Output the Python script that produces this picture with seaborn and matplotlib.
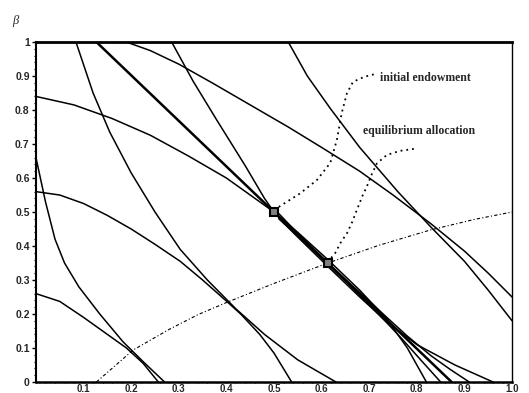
import matplotlib
matplotlib.use("Agg")
import matplotlib.pyplot as plt
import seaborn as sns
from matplotlib.ticker import MultipleLocator

# =========================
# DATA
# =========================

# budget line through endowment and equilibrium
budget_x = [0.127, 0.873]
budget_y = [1.0, 0.0]

# indifference curves through the initial endowment
a0_x = [0.285, 0.33, 0.38, 0.44, 0.48, 0.50, 0.52, 0.55, 0.613, 0.68, 0.737, 0.80, 0.88, 0.96]
a0_y = [1.0, 0.885, 0.77, 0.635, 0.54, 0.50, 0.468, 0.426, 0.34, 0.25, 0.177, 0.11, 0.05, 0.0]
b0_x = [0.0, 0.08, 0.16, 0.24, 0.32, 0.40, 0.46, 0.50, 0.55, 0.613, 0.68, 0.737, 0.78, 0.82]
b0_y = [0.84, 0.815, 0.775, 0.726, 0.665, 0.60, 0.54, 0.50, 0.44, 0.36, 0.27, 0.185, 0.10, 0.0]

# indifference curves through the equilibrium
a1_x = [0.50, 0.55, 0.613, 0.66, 0.70, 0.737, 0.78, 0.83, 0.87, 0.91]
a1_y = [0.51, 0.437, 0.351, 0.289, 0.238, 0.19, 0.135, 0.077, 0.037, 0.0]
b1_x = [0.51, 0.56, 0.613, 0.66, 0.70, 0.737, 0.77, 0.81, 0.85]
b1_y = [0.48, 0.417, 0.347, 0.283, 0.227, 0.174, 0.125, 0.062, 0.0]

# other pairs of curves along the contract curve
l66_x = [0.0, 0.02, 0.04, 0.06, 0.09, 0.134, 0.183, 0.225, 0.27]
l66_y = [0.66, 0.53, 0.42, 0.35, 0.28, 0.20, 0.118, 0.06, 0.0]
l26_x = [0.0, 0.05, 0.10, 0.15, 0.19, 0.225, 0.257]
l26_y = [0.26, 0.237, 0.19, 0.14, 0.10, 0.055, 0.0]

l56_x = [0.0, 0.05, 0.10, 0.15, 0.20, 0.25, 0.303, 0.35, 0.40, 0.43, 0.47, 0.50, 0.537]
l56_y = [0.56, 0.55, 0.525, 0.49, 0.45, 0.405, 0.355, 0.30, 0.238, 0.20, 0.14, 0.085, 0.0]
l08_x = [0.084, 0.12, 0.155, 0.20, 0.25, 0.303, 0.36, 0.42, 0.48, 0.55, 0.63]
l08_y = [1.0, 0.85, 0.735, 0.615, 0.50, 0.39, 0.30, 0.215, 0.14, 0.065, 0.0]

u19_x = [0.19, 0.24, 0.30, 0.37, 0.45, 0.53, 0.60, 0.68, 0.75, 0.83, 0.90, 0.95, 1.0]
u19_y = [1.0, 0.975, 0.935, 0.88, 0.815, 0.75, 0.69, 0.62, 0.55, 0.465, 0.385, 0.32, 0.25]
u53_x = [0.53, 0.57, 0.618, 0.68, 0.76, 0.83, 0.90, 0.95, 1.0]
u53_y = [1.0, 0.90, 0.805, 0.69, 0.56, 0.455, 0.355, 0.27, 0.18]

# contract curve
cc_x = [0.127, 0.204, 0.28, 0.34, 0.404, 0.50, 0.613, 0.72, 0.828, 0.92, 1.0]
cc_y = [0.0, 0.094, 0.155, 0.198, 0.236, 0.29, 0.35, 0.402, 0.447, 0.478, 0.50]

# marked points
pts_x = [0.5, 0.613]
pts_y = [0.5, 0.35]

# dotted pointers to the labels
p1_x = [0.51, 0.555, 0.59, 0.618, 0.632, 0.642, 0.653, 0.666, 0.69, 0.71]
p1_y = [0.515, 0.555, 0.594, 0.644, 0.712, 0.79, 0.849, 0.883, 0.898, 0.905]
p2_x = [0.62, 0.628, 0.64, 0.653, 0.664, 0.674, 0.685, 0.695, 0.705, 0.716, 0.737, 0.765, 0.80]
p2_y = [0.365, 0.378, 0.41, 0.437, 0.47, 0.506, 0.545, 0.575, 0.61, 0.643, 0.668, 0.68, 0.687]

labels = ["initial endowment", "equilibrium allocation"]
label_pos = [(0.723, 0.894), (0.686, 0.738)]

x_ticks = [0.1, 0.2, 0.3, 0.4, 0.5, 0.6, 0.7, 0.8, 0.9, 1.0]
x_ticklabels = ["0.1", "0.2", "0.3", "0.4", "0.5", "0.6", "0.7", "0.8", "0.9", "1.0"]
y_ticks = [0.0, 0.1, 0.2, 0.3, 0.4, 0.5, 0.6, 0.7, 0.8, 0.9, 1.0]
y_ticklabels = ["0", "0.1", "0.2", "0.3", "0.4", "0.5", "0.6", "0.7", "0.8", "0.9", "1"]

# =========================
# PLOT
# =========================

sns.set_style("ticks")
plt.rcParams['font.family'] = ['Liberation Sans', 'DejaVu Sans']

fig, ax = plt.subplots(figsize=(5.29, 3.93), dpi=100)
fig.subplots_adjust(left=0.068, right=0.968, bottom=0.028, top=0.893)

curves = [
    (a0_x, a0_y), (b0_x, b0_y), (a1_x, a1_y), (b1_x, b1_y),
    (l66_x, l66_y), (l26_x, l26_y), (l56_x, l56_y), (l08_x, l08_y),
    (u19_x, u19_y), (u53_x, u53_y),
]
for cx, cy in curves:
    sns.lineplot(x=cx, y=cy, sort=False, estimator=None,
                 color="black", linewidth=1.1, ax=ax)

sns.lineplot(x=budget_x, y=budget_y, sort=False, estimator=None,
             color="black", linewidth=1.8, ax=ax)

sns.lineplot(x=cc_x, y=cc_y, sort=False, estimator=None,
             color="black", linewidth=0.8, linestyle=(0, (3, 2, 1, 2)), ax=ax)

for px, py in [(p1_x, p1_y), (p2_x, p2_y)]:
    sns.lineplot(x=px, y=py, sort=False, estimator=None, color="black",
                 linewidth=1.3, linestyle=(0, (1, 2.2)), ax=ax)

ax.plot(pts_x, pts_y, linestyle="none", marker="s", markersize=6,
        mfc="0.5", mec="black", mew=1.5, zorder=5)

for text, (tx, ty) in zip(labels, label_pos):
    ax.text(tx, ty, text, ha="left", va="center", fontsize=8.5,
            fontweight="bold", family=["Liberation Serif", "DejaVu Serif"])

ax.set_xlim(0, 1)
ax.set_ylim(0, 1)
ax.set_xticks(x_ticks)
ax.set_xticklabels(x_ticklabels)
ax.set_yticks(y_ticks)
ax.set_yticklabels(y_ticklabels)
ax.xaxis.set_minor_locator(MultipleLocator(0.02))
ax.yaxis.set_minor_locator(MultipleLocator(0.02))
ax.tick_params(axis="y", which="major", labelsize=7.5, length=3,
               width=1, direction="out", pad=1.5, color="black")
ax.tick_params(axis="x", which="major", labelsize=7, length=1,
               width=1, direction="out", pad=0.3, color="black")
ax.tick_params(axis="y", which="minor", length=1.5, width=0.8,
               direction="out", color="black")
ax.tick_params(axis="x", which="minor", length=0.8, width=0.8,
               direction="out", color="black")
for lab in ax.get_xticklabels() + ax.get_yticklabels():
    lab.set_fontweight("bold")

ax.spines["top"].set_linewidth(2.0)
ax.spines["left"].set_linewidth(1.5)
ax.spines["bottom"].set_linewidth(1.8)
ax.spines["right"].set_linewidth(1.0)
for s in ax.spines.values():
    s.set_color("black")

ax.set_xlabel("")
ax.set_ylabel("")
fig.text(15 / 529, 1 - 21 / 393, "β", fontsize=9, style="italic",
         family=["Liberation Serif", "DejaVu Serif"], ha="center", va="center")

plt.savefig("out.png", dpi=100)
